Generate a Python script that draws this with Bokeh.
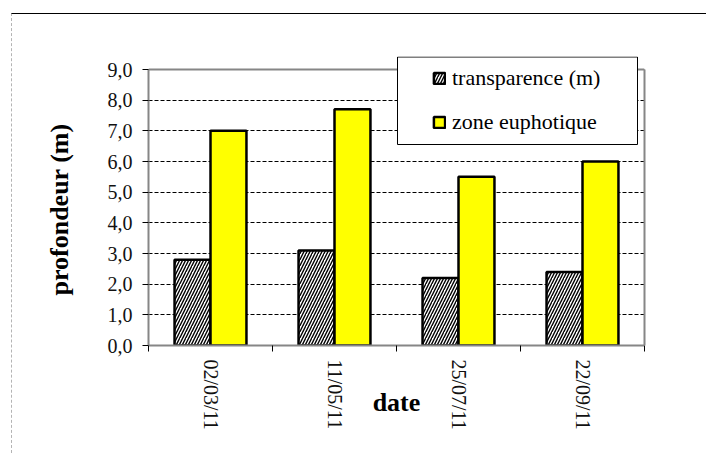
from bokeh.plotting import figure
from bokeh.models import (FixedTicker, Range1d, BoxAnnotation, Legend,
                          LegendItem, LinearAxis, Title)
from bokeh.embed import file_html
from bokeh.resources import INLINE

# ---- data ----
categories = ["02/03/11", "11/05/11", "25/07/11", "22/09/11"]
transparence = [2.8, 3.1, 2.2, 2.4]
zone_euphotique = [7.0, 7.7, 5.5, 6.0]
y_ticks = [0, 1, 2, 3, 4, 5, 6, 7, 8, 9]
y_tick_labels = ["0,0", "1,0", "2,0", "3,0", "4,0", "5,0", "6,0", "7,0", "8,0", "9,0"]
series_names = ["transparence (m)", "zone euphotique"]

# ---- layout constants ----
n = len(categories)
y_max = 9.0
frame_h = 289
px_per_unit = 276 / 9.0
y_top = frame_h / px_per_unit
SERIF = "'Liberation Serif', 'Times New Roman', serif"
GRAY = "#868686"

p = figure(width=695, height=440, x_range=Range1d(0, n), y_range=Range1d(0, y_top),
           output_backend="svg", toolbar_location=None,
           min_border_left=136, min_border_right=63, min_border_top=42,
           min_border_bottom=109)
p.title.visible = False
p.styles = {"border-top": "1px solid black", "border-left": "1px dashed #b4b4b4",
            "margin-left": "11px", "margin-top": "13px"}
p.outline_line_color = None
p.background_fill_color = "white"
p.border_fill_color = "white"

# y axis
p.yaxis.ticker = FixedTicker(ticks=y_ticks)
p.yaxis.major_label_overrides = {t: l for t, l in zip(y_ticks, y_tick_labels)}
p.yaxis.bounds = (0, y_max)
p.yaxis.axis_line_color = GRAY
p.yaxis.axis_line_width = 2
p.yaxis.major_tick_line_color = "black"
p.yaxis.major_tick_out = 6
p.yaxis.major_tick_in = 0
p.yaxis.minor_tick_line_color = None
p.yaxis.major_label_text_font = SERIF
p.yaxis.major_label_text_font_size = "20px"
p.yaxis.major_label_text_color = "#111111"
p.yaxis.major_label_standoff = 10

# y title (as a left title so it can be centred on the 0-9 span)
ytitle = Title(text="profondeur (m)", align="left", offset=50,
               vertical_align="middle", standoff=60,
               text_font=SERIF, text_font_size="26px", text_font_style="bold",
               text_color="black")
p.add_layout(ytitle, "left")

# x axis: labels at centers, ticks at boundaries
centers = [i + 0.5 for i in range(n)]
p.xaxis.ticker = FixedTicker(ticks=centers, minor_ticks=list(range(n + 1)))
p.xaxis.major_label_overrides = {c: l for c, l in zip(centers, categories)}
p.xaxis.major_label_orientation = "vertical"
p.xaxis.axis_line_color = GRAY
p.xaxis.axis_line_width = 2
p.xaxis.major_tick_line_color = None
p.xaxis.major_tick_out = 0
p.xaxis.major_tick_in = 0
p.xaxis.minor_tick_line_color = "black"
p.xaxis.minor_tick_out = 6
p.xaxis.minor_tick_in = 0
p.xaxis.major_label_text_font = SERIF
p.xaxis.major_label_text_font_size = "20px"
p.xaxis.major_label_text_color = "#111111"
p.xaxis.major_label_standoff = 8
p.xaxis.axis_label = "date"
p.xaxis.axis_label_text_font = SERIF
p.xaxis.axis_label_text_font_size = "26px"
p.xaxis.axis_label_text_font_style = "bold"
p.xaxis.axis_label_text_color = "black"
p.xaxis.axis_label_standoff = -45

# right frame line
right_axis = LinearAxis(ticker=FixedTicker(ticks=[]), bounds=(0, y_max),
                        axis_line_color=GRAY, axis_line_width=2,
                        major_tick_line_color=None, minor_tick_line_color=None,
                        major_label_text_font_size="0px")
p.add_layout(right_axis, "right")

# grid
p.xgrid.visible = False
p.ygrid.ticker = FixedTicker(ticks=y_ticks)
p.ygrid.grid_line_color = "black"
p.ygrid.grid_line_dash = "4 2"
p.ygrid.grid_line_width = 1

# top frame line
p.segment(x0=[0], y0=[y_max], x1=[n], y1=[y_max], line_color=GRAY, line_width=2)

# bars
bw = 0.29
r1 = p.vbar(x=[c - bw / 2 for c in centers], top=transparence, width=bw,
            fill_color="white", hatch_pattern="/", hatch_color="black",
            hatch_scale=6, hatch_weight=1.4, line_color="black", line_width=2.5)
r2 = p.vbar(x=[c + bw / 2 for c in centers], top=zone_euphotique, width=bw,
            fill_color="#FFFF00", line_color="black", line_width=2.5)

# legend box
box = BoxAnnotation(left=249 / 124, right=489 / 124,
                    bottom=201 / px_per_unit, top=288.5 / px_per_unit,
                    fill_color="white", fill_alpha=1.0,
                    line_color="black", line_width=1, line_alpha=1.0)
p.add_layout(box)

legend = Legend(items=[LegendItem(label=series_names[0], renderers=[r1]),
                       LegendItem(label=series_names[1], renderers=[r2])],
                location=(284, 210), padding=0, margin=0, spacing=18,
                glyph_width=14, glyph_height=14, label_standoff=6, label_height=26,
                border_line_alpha=0, background_fill_alpha=0,
                label_text_font=SERIF, label_text_font_size="22px",
                label_text_color="black")
p.add_layout(legend)

open("out.html", "w").write(file_html(p, INLINE))
